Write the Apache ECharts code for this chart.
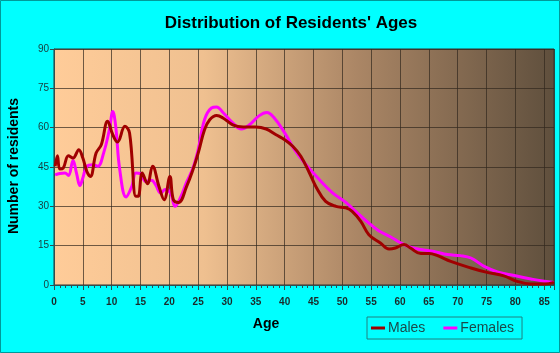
<!DOCTYPE html>
<html>
<head>
<meta charset="utf-8">
<script src="https://cdn.jsdelivr.net/npm/echarts@6/dist/echarts.min.js"></script>
<style>
  html, body { margin: 0; padding: 0; background: #00ffff; }
  #chart { width: 560px; height: 353px; }
</style>
</head>
<body>
<div id="chart"></div>
<script>
// ages and values
const maleAges = [0.2, 0.6, 1.0, 1.6, 2.5, 3.3, 4.3, 5.0, 5.7, 6.3, 7.3, 8.2, 9.3, 10.2, 11.0, 12.3, 13.1, 14.2, 14.6, 15.3, 16.2, 17.1, 18.2, 19.1, 20.1, 20.7, 21.6, 23.0, 24.1, 25.0, 26.1, 27.0, 28.2, 29.3, 31.0, 32.8, 35.0, 36.8, 38.5, 40.0, 41.4, 42.8, 44.3, 45.4, 47.1, 48.9, 50.6, 51.7, 53.2, 54.6, 56.6, 58.1, 59.2, 60.7, 61.8, 63.6, 65.0, 66.5, 68.8, 72.3, 75.1, 78.0, 80.3, 82.7, 85.0, 86.7]
const maleValues = [45.3, 49.3, 44.2, 44.6, 49.3, 48.4, 51.6, 48.4, 43.3, 41.4, 50.3, 53.5, 62.4, 57.3, 54.5, 60.5, 58.0, 33.8, 33.8, 42.7, 38.6, 45.3, 37.6, 32.5, 41.4, 32.5, 31.5, 37.6, 44.0, 50.3, 59.2, 63.0, 64.6, 63.7, 61.1, 60.3, 60.3, 59.5, 57.3, 55.4, 52.9, 49.1, 42.7, 37.6, 31.9, 30.0, 29.4, 28.1, 24.3, 19.2, 16.0, 13.7, 14.1, 15.4, 14.1, 12.0, 12.0, 11.2, 9.0, 6.5, 4.8, 3.5, 1.4, 0.4, 0.4, 1.0]
const femaleAges = [0.2, 1.0, 1.9, 2.5, 3.3, 3.9, 4.5, 5.0, 5.7, 6.7, 7.6, 8.6, 9.6, 10.2, 10.7, 11.4, 12.5, 13.5, 14.2, 15.0, 15.9, 16.9, 17.6, 18.5, 19.3, 20.2, 21.0, 21.9, 23.0, 24.1, 25.0, 26.1, 27.3, 28.2, 29.3, 31.0, 32.5, 33.9, 35.6, 36.9, 38.2, 40.0, 41.7, 43.7, 46.0, 48.3, 50.6, 52.3, 54.6, 56.3, 58.4, 60.0, 61.8, 63.6, 65.9, 68.2, 70.5, 72.3, 74.6, 76.9, 79.8, 82.7, 85.0, 86.7]
const femaleValues = [42.0, 42.5, 42.7, 41.8, 47.5, 42.7, 37.9, 40.8, 45.3, 45.9, 45.3, 50.3, 59.2, 66.2, 60.5, 44.0, 33.6, 37.6, 42.7, 42.5, 39.5, 39.9, 38.3, 35.1, 36.4, 35.1, 30.0, 33.2, 39.2, 44.6, 51.6, 63.0, 67.5, 67.9, 65.8, 61.8, 59.5, 61.1, 64.6, 65.8, 63.7, 58.0, 51.6, 45.9, 40.2, 35.1, 31.5, 28.1, 23.6, 20.7, 18.3, 16.2, 14.4, 13.5, 12.8, 11.6, 11.2, 10.3, 7.1, 5.0, 3.6, 2.3, 1.4, 1.0]
const yTicks = { min: 0, max: 90, step: 15 }
const xTicks = { min: 0, max: 86.7, step: 5 }

function pairs(xs, ys) {
  return xs.map((x, i) => [x, ys[i]])
}

const chart = echarts.init(document.getElementById('chart'))
const font = 'Arial, "Liberation Sans", sans-serif'

chart.setOption({
  backgroundColor: '#00ffff',
  animation: false,
  textStyle: { fontFamily: font },
  graphic: [
    {
      type: 'text',
      x: 291, y: 23,
      style: { text: "Distribution of Residents' Ages", font: 'bold 17px ' + font, fill: '#000', align: 'center', verticalAlign: 'middle' }
    },
    {
      type: 'text',
      x: 14, y: 166,
      rotation: Math.PI / 2,
      style: { text: 'Number of residents', font: 'bold 14px ' + font, fill: '#000', align: 'center', verticalAlign: 'middle' }
    },
    {
      type: 'text',
      x: 266, y: 324,
      style: { text: 'Age', font: 'bold 14px ' + font, fill: '#000', align: 'center', verticalAlign: 'middle' }
    },
    {
      type: 'rect',
      shape: { x: 0.5, y: 0.5, width: 559, height: 352 },
      style: { fill: 'none', stroke: '#009999', lineWidth: 1 },
      silent: true
    }
  ],
  grid: {
    left: 54,
    right: 6,
    top: 49,
    bottom: 68,
    show: true,
    borderColor: '#333',
    borderWidth: 1,
    backgroundColor: {
      type: 'linear', x: 0, y: 0, x2: 1, y2: 0,
      colorStops: [
        { offset: 0, color: '#ffcc99' },
        { offset: 0.3, color: '#efc090' },
        { offset: 0.6, color: '#ac8766' },
        { offset: 1, color: '#5f4f3d' }
      ]
    }
  },
  xAxis: {
    type: 'value',
    min: xTicks.min,
    max: xTicks.max,
    interval: xTicks.step,
    axisLine: { show: true, lineStyle: { color: '#2f4f4f' } },
    axisTick: { show: true, length: 5, lineStyle: { color: '#2f4f4f' } },
    minorTick: { show: true, splitNumber: 5, length: 3, lineStyle: { color: '#2f4f4f' } },
    axisLabel: { showMaxLabel: false, fontSize: 10, fontWeight: 'bold', color: '#1a2a2a', margin: 12 },
    splitLine: { show: true, lineStyle: { color: 'rgba(50,40,30,0.7)', width: 1 } }
  },
  yAxis: {
    type: 'value',
    min: yTicks.min,
    max: yTicks.max,
    interval: yTicks.step,
    axisLine: { show: true, lineStyle: { color: '#2f4f4f' } },
    axisTick: { show: true, length: 4, lineStyle: { color: '#2f4f4f' } },
    axisLabel: { fontSize: 10, color: '#1a3a3a', margin: 5 },
    splitLine: { show: true, lineStyle: { color: 'rgba(50,40,30,0.7)', width: 1 } }
  },
  legend: {
    left: 367,
    top: 317,
    padding: [4, 8, 4, 4],
    itemGap: 18,
    itemWidth: 14,
    itemHeight: 3,
    borderColor: '#208080',
    borderWidth: 1,
    icon: 'rect',
    textStyle: { fontSize: 14, color: '#1a4a4a', padding: [0, 0, 0, -2] },
    data: ['Males', 'Females']
  },
  series: [
    {
      name: 'Females',
      type: 'line',
      smooth: 0.4,
      showSymbol: false,
      lineStyle: { color: '#ff00ff', width: 3 },
      itemStyle: { color: '#ff00ff' },
      data: pairs(femaleAges, femaleValues)
    },
    {
      name: 'Males',
      type: 'line',
      smooth: 0.4,
      showSymbol: false,
      lineStyle: { color: '#a00000', width: 3 },
      itemStyle: { color: '#a00000' },
      data: pairs(maleAges, maleValues)
    }
  ]
})
</script>
</body>
</html>
